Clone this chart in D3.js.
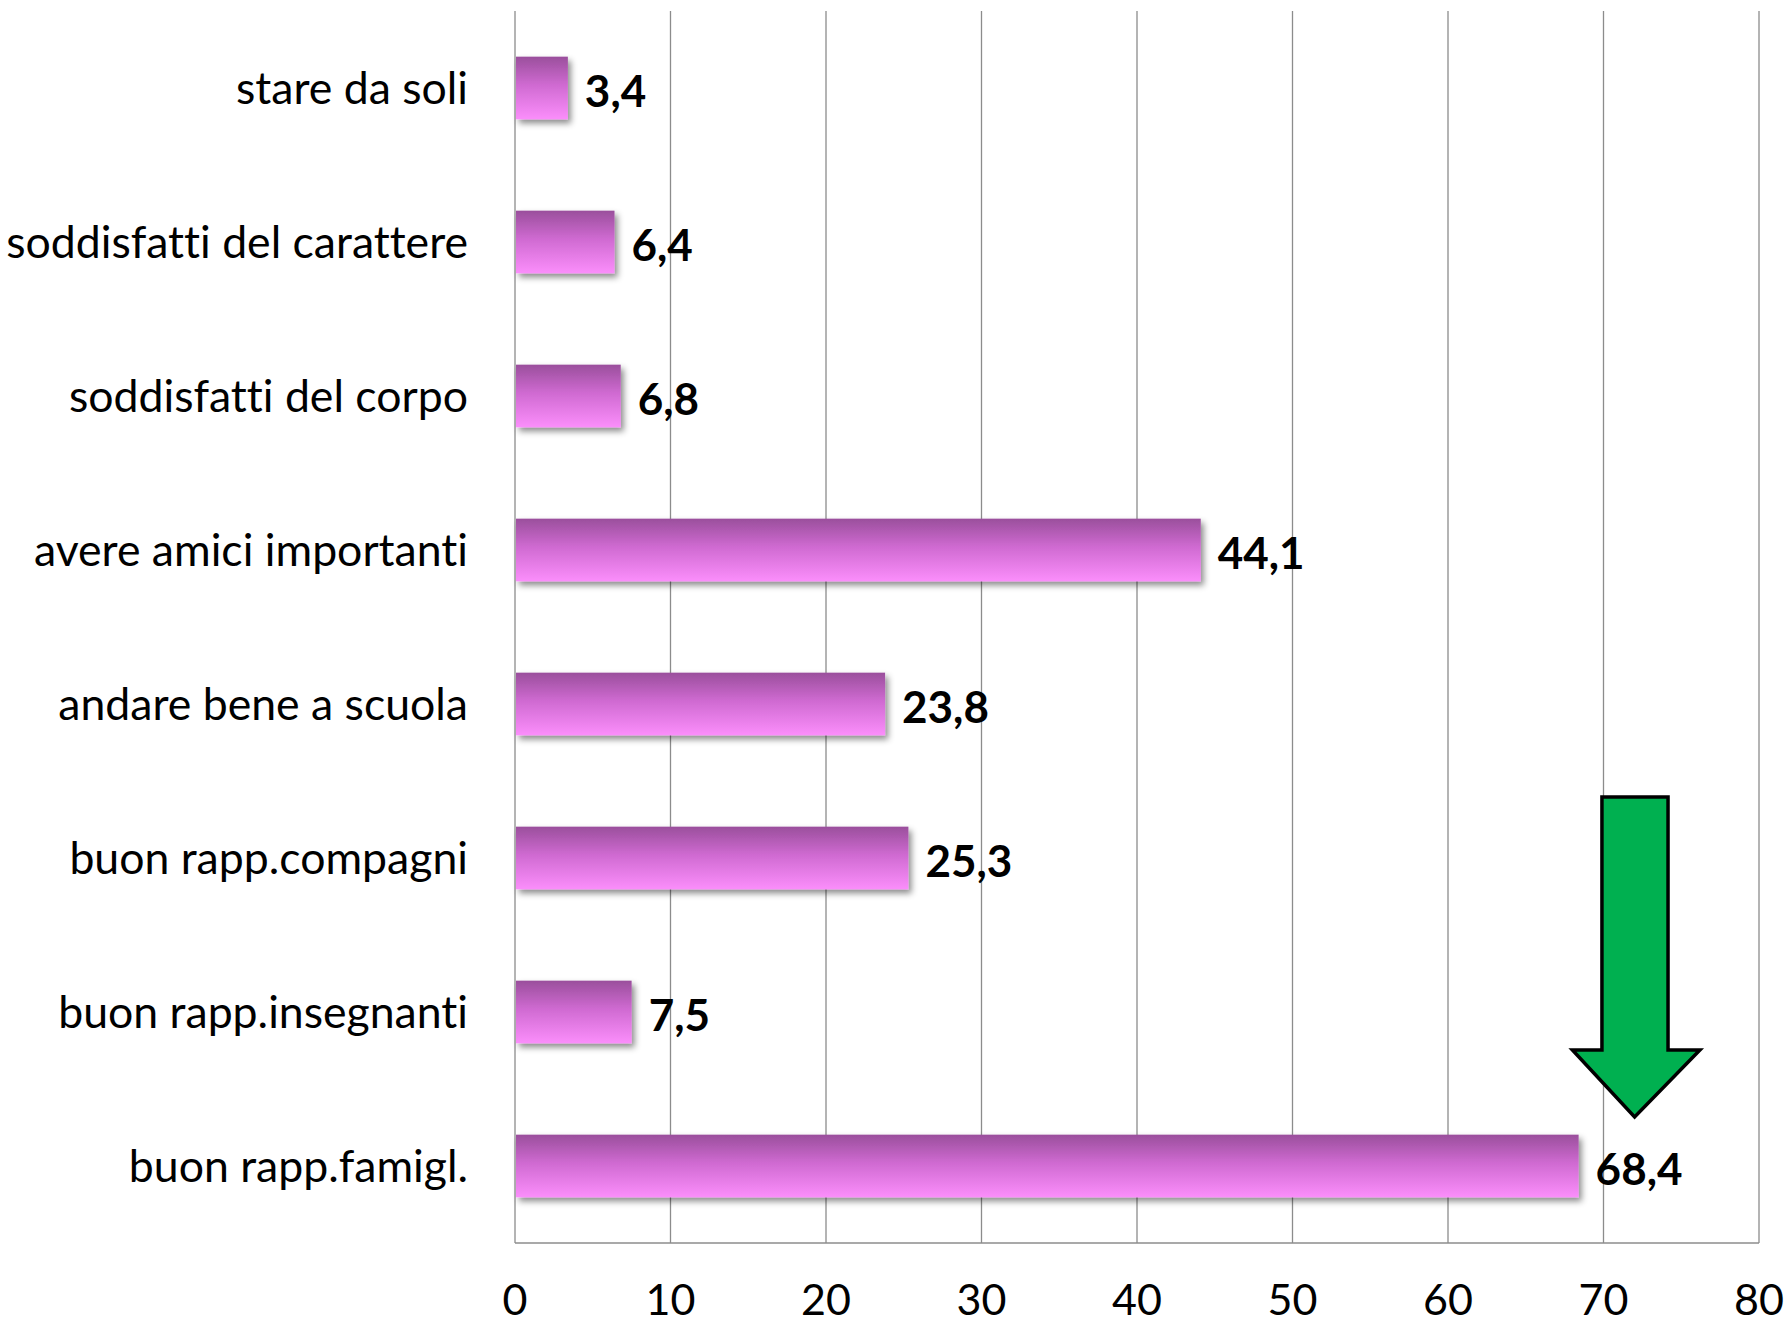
<!DOCTYPE html>
<html><head><meta charset="utf-8">
<script src="https://cdn.jsdelivr.net/npm/d3@7"></script>
<style>html,body{margin:0;padding:0;background:#fff;} text{font-variant-ligatures:none;font-feature-settings:"liga" 0;}</style>
</head><body>
<svg id="chart" width="1787" height="1326"></svg>
<script>
const categories = ["stare da soli","soddisfatti del carattere","soddisfatti del corpo","avere amici importanti","andare bene a scuola","buon rapp.compagni","buon rapp.insegnanti","buon rapp.famigl."];
const values = [3.4, 6.4, 6.8, 44.1, 23.8, 25.3, 7.5, 68.4];
const valueLabels = ["3,4","6,4","6,8","44,1","23,8","25,3","7,5","68,4"];
const tickValues = [0,10,20,30,40,50,60,70,80];

(function(){
const svg = d3.select("#chart");
const pL = 515, pR = 1759, pT = 11, pB = 1243;
const x = d3.scaleLinear().domain([0,80]).range([pL,pR]);
const y = d3.scaleBand().domain(categories).range([pT,pB]).paddingInner(0.593).paddingOuter(0.2965);

const defs = svg.append("defs");
const g = defs.append("linearGradient").attr("id","barGrad").attr("x1",0).attr("y1",0).attr("x2",0).attr("y2",1);
g.append("stop").attr("offset","0%").attr("stop-color","#9a4f9c");
g.append("stop").attr("offset","45%").attr("stop-color","#cf6ad1");
g.append("stop").attr("offset","100%").attr("stop-color","#fb8efb");
const f = defs.append("filter").attr("id","shadow").attr("x","-10%").attr("y","-20%").attr("width","130%").attr("height","160%");
f.append("feDropShadow").attr("dx",3).attr("dy",4).attr("stdDeviation",3).attr("flood-color","#000").attr("flood-opacity",0.45);

svg.append("g").selectAll("line").data(tickValues).join("line")
  .attr("x1",d=>x(d)).attr("x2",d=>x(d)).attr("y1",pT).attr("y2",pB)
  .attr("stroke","#8c8c8c").attr("stroke-width",1.3);
svg.append("line").attr("x1",pL).attr("x2",pR).attr("y1",pB).attr("y2",pB)
  .attr("stroke","#8c8c8c").attr("stroke-width",1.3);

svg.append("g").selectAll("rect").data(values).join("rect")
  .attr("x",x(0)+1).attr("y",(d,i)=>y(categories[i]))
  .attr("width",d=>x(d)-x(0)-1).attr("height",y.bandwidth())
  .attr("fill","url(#barGrad)").attr("filter","url(#shadow)");

const catG = svg.append("g").attr("font-family","Lato, 'Open Sans', sans-serif").attr("fill","#000");
const catText = catG.selectAll("text").data(categories).join("text")
  .attr("x",468).attr("y",d=>y(d)+y.bandwidth()/2).attr("dy","0.35em")
  .attr("text-anchor","end").attr("font-size",40).text(d=>d);
let maxW = 0; catText.each(function(){maxW=Math.max(maxW,this.getComputedTextLength());});
const catSize = 40*462/maxW;
catText.attr("font-size",catSize);

svg.append("g").attr("font-family","Lato, 'Open Sans', sans-serif").attr("font-weight","bold")
  .selectAll("text").data(values).join("text")
  .attr("x",d=>x(d)+17).attr("y",(d,i)=>y(categories[i])+y.bandwidth()/2+4).attr("dy","0.35em")
  .attr("font-size",44).text((d,i)=>valueLabels[i]);

svg.append("g").attr("font-family","Lato, 'Open Sans', sans-serif").selectAll("text").data(tickValues).join("text")
  .attr("x",d=>x(d)).attr("y",1315).attr("text-anchor","middle").attr("font-size",43).text(d=>d);

const sx0 = x(69.9), sx1 = x(74.15), hx0 = x(68.0), hx1 = x(76.2), tipx = x(72.0);
const yTop = 797, yHead = 1050, yTip = 1117;
svg.append("path")
  .attr("d",`M${sx0},${yTop}L${sx1},${yTop}L${sx1},${yHead}L${hx1},${yHead}L${tipx},${yTip}L${hx0},${yHead}L${sx0},${yHead}Z`)
  .attr("fill","#00b050").attr("stroke","#000").attr("stroke-width",3.5).attr("stroke-linejoin","miter");
})();
</script>
</body></html>
